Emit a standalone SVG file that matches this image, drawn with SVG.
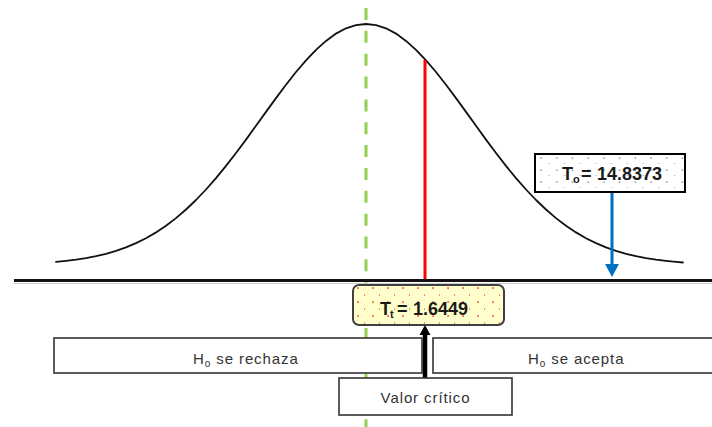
<svg xmlns="http://www.w3.org/2000/svg" width="712" height="427" viewBox="0 0 712 427">
  <style>
    .lbl { font-family: "Liberation Sans", Arial, sans-serif; font-size: 15px; fill: #333; letter-spacing: 0.9px; }
    .big { font-family: "Liberation Sans", Arial, sans-serif; font-size: 18px; font-weight: bold; fill: #1a1a1a; }
    .sub { font-size: 10px; }
    .hbox { fill: #fff; stroke: #333; stroke-width: 1.6; }
  </style>
  <defs>
    <pattern id="dotsGray" width="15.7" height="12" patternUnits="userSpaceOnUse" x="534" y="152">
      <rect width="15.7" height="12" fill="#fff"/>
      <rect x="6.5" y="5.5" width="1.3" height="1.3" fill="#707070"/>
      <rect x="14.3" y="11.5" width="1.3" height="1.3" fill="#707070"/>
    </pattern>
    <pattern id="dotsRed" width="15" height="14" patternUnits="userSpaceOnUse" x="350" y="282">
      <rect width="15" height="14" fill="#ffffcc"/>
      <rect x="7.3" y="5.3" width="1.5" height="1.5" fill="#ff1a1a"/>
      <rect x="14.3" y="12.3" width="1.5" height="1.5" fill="#ff1a1a"/>
    </pattern>
  </defs>

  <rect width="712" height="427" fill="#fff"/>

  <!-- green dashed mean line -->
  <line x1="366" y1="8" x2="366" y2="427" stroke="#92d050" stroke-width="3" stroke-dasharray="12 10.85"/>

  <!-- normal curve -->
  <polyline id="curve" fill="none" stroke="#111" stroke-width="1.8" stroke-linejoin="round" stroke-linecap="round"
    points="56,261.9 66,260.9 76,259.7 86,258.1 96,256.2 106,253.8 116,250.8 126,247.3 136,243.1 146,238.2 156,232.4 166,225.7 176,218.1 186,209.5 196,200 206,189.5 216,178.1 226,165.9 236,153 246,139.6 256,125.8 266,111.9 276,98.1 286,84.7 296,72 306,60.3 316,49.8 326,40.9 336,33.6 346,28.3 356,25.1 366,24 376,25.1 386,28.3 396,33.6 406,40.9 416,49.8 426,60.3 436,72 446,84.7 456,98.1 466,111.9 476,125.8 486,139.6 496,153 506,165.9 516,178.1 526,189.5 536,200 546,209.5 556,218.1 566,225.7 576,232.4 586,238.2 596,243.1 606,247.3 616,250.8 626,253.8 636,256.2 646,258.1 656,259.7 666,260.9 676,261.9 683,262.5"/>

  <!-- red critical value line -->
  <line x1="425" y1="60" x2="425" y2="280" stroke="#ff0000" stroke-width="3"/>

  <!-- axis -->
  <line x1="14" y1="280.5" x2="712" y2="280.5" stroke="#111" stroke-width="3"/>
  <line x1="14" y1="283.5" x2="712" y2="283.5" stroke="#ccc" stroke-width="1"/>

  <g id="connectors">
    <line x1="612" y1="192" x2="612" y2="265" stroke="#0070c0" stroke-width="3"/>
    <polygon points="605,264 619,264 612,277" fill="#0070c0"/>
    <line x1="425" y1="378" x2="425" y2="333" stroke="#000" stroke-width="4.5"/>
    <polygon points="419.5,335 430.5,335 425,325" fill="#000"/>
  </g>

  <g id="node-to">
    <rect x="535" y="154" width="150" height="38" fill="url(#dotsGray)" stroke="#000" stroke-width="2"/>
    <text class="big" y="180"><tspan x="562">T</tspan><tspan x="573" dy="3" style="font-size:11px">o</tspan><tspan x="581" dy="-3">=</tspan><tspan x="597">14.8373</tspan></text>
  </g>

  <g id="node-tt">
    <rect x="353" y="285" width="151" height="40" rx="6" fill="url(#dotsRed)" stroke="#404040" stroke-width="2"/>
    <text class="big" y="315"><tspan x="380">T</tspan><tspan x="390" dy="3" style="font-size:11px">t</tspan><tspan x="397" dy="-3">=</tspan><tspan x="413">1.6449</tspan></text>
  </g>

  <g id="node-rechaza">
    <rect class="hbox" x="54" y="338" width="368" height="35"/>
    <text class="lbl" x="193" y="364">H<tspan class="sub" dy="3">o</tspan><tspan dy="-3"> se rechaza</tspan></text>
  </g>

  <g id="node-acepta">
    <rect class="hbox" x="433" y="338" width="285" height="35"/>
    <text class="lbl" x="528" y="364">H<tspan class="sub" dy="3">o</tspan><tspan dy="-3"> se acepta</tspan></text>
  </g>

  <g id="node-valor">
    <rect class="hbox" x="339" y="378" width="173" height="37"/>
    <text class="lbl" x="425.5" y="403" text-anchor="middle">Valor crítico</text>
  </g>
</svg>
